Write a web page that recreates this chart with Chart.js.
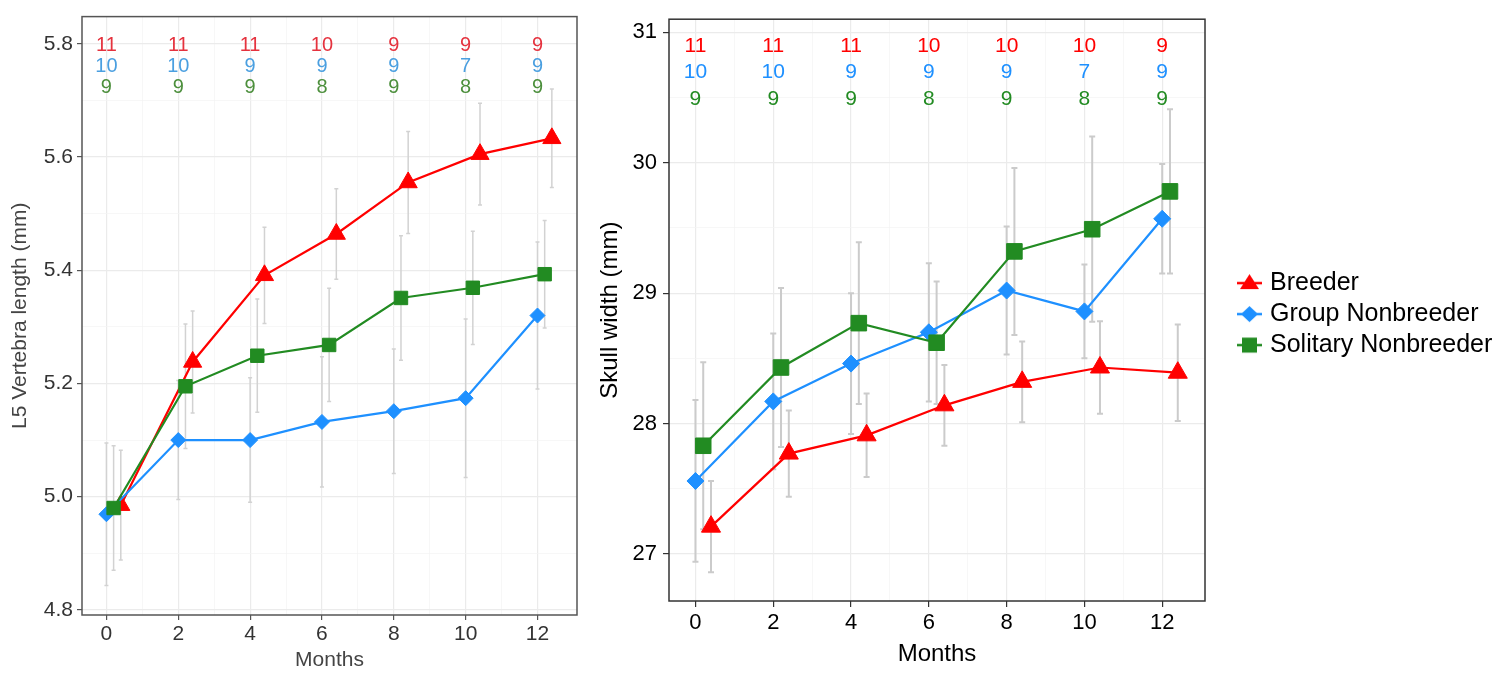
<!DOCTYPE html>
<html>
<head>
<meta charset="utf-8">
<script src="https://cdn.jsdelivr.net/npm/chart.js@4.4.1/dist/chart.umd.min.js"></script>
<style>
  html, body { margin: 0; padding: 0; background: #fff; }
  #wrap { position: relative; width: 1509px; height: 675px; }
  canvas { position: absolute; top: 0; }
  #vertebra { left: 0; }
  #skull { left: 590px; }
</style>
</head>
<body>
<div id="wrap">
  <canvas id="vertebra" width="590" height="675"></canvas>
  <canvas id="skull" width="919" height="675"></canvas>
</div>
<script>
const months = [0, 2, 4, 6, 8, 10, 12];
const groupNames = ["Breeder", "Group Nonbreeder", "Solitary Nonbreeder"];
// dodge offsets (months) used in the original plot
const dodge = [0.4, 0, 0.2];

// L5 vertebra length (mm): means and SE
const vertBreeder = [4.985, 5.238, 5.391, 5.464, 5.555, 5.605, 5.633];
const vertBreederSE = [0.097, 0.09, 0.085, 0.08, 0.09, 0.09, 0.087];
const vertGroup = [4.969, 5.10, 5.10, 5.132, 5.151, 5.174, 5.32];
const vertGroupSE = [0.126, 0.105, 0.11, 0.115, 0.11, 0.14, 0.13];
const vertSolitary = [4.98, 5.195, 5.249, 5.268, 5.351, 5.369, 5.393];
const vertSolitarySE = [0.11, 0.11, 0.10, 0.10, 0.11, 0.10, 0.095];

// Skull width (mm): means and SE
const skullBreeder = [27.21, 27.77, 27.91, 28.14, 28.32, 28.43, 28.39];
const skullBreederSE = [0.35, 0.33, 0.32, 0.31, 0.31, 0.355, 0.37];
const skullGroup = [27.56, 28.17, 28.46, 28.70, 29.02, 28.86, 29.57];
const skullGroupSE = [0.62, 0.52, 0.54, 0.53, 0.49, 0.36, 0.42];
const skullSolitary = [27.83, 28.43, 28.77, 28.62, 29.32, 29.49, 29.78];
const skullSolitarySE = [0.64, 0.61, 0.62, 0.47, 0.64, 0.71, 0.63];

// sample sizes printed above each time point
const vertNBreeder = [11, 11, 11, 10, 9, 9, 9];
const skullNBreeder = [11, 11, 11, 10, 10, 10, 9];
const nGroup = [10, 10, 9, 9, 9, 7, 9];
const nSolitary = [9, 9, 9, 8, 9, 8, 9];

// y values (data units) where the three rows of counts sit
const vertCountRows = [5.797, 5.76, 5.722];
const skullCountRows = [30.89, 30.69, 30.49];

// tick / grid positions
const monthGrid = [0, 1, 2, 3, 4, 5, 6, 7, 8, 9, 10, 11, 12];
const vertGrid = [4.8, 4.9, 5.0, 5.1, 5.2, 5.3, 5.4, 5.5, 5.6, 5.7, 5.8];
const skullGrid = [27, 27.5, 28, 28.5, 29, 29.5, 30, 30.5, 31];

const colors = ["#ff0000", "#1e90ff", "#228b22"];
const FONT = "'Liberation Sans', Arial, sans-serif";
Chart.defaults.font.family = FONT;

// grey error bars, drawn under the lines
const errorBars = {
  id: "errorBars",
  beforeDatasetsDraw(chart, args, opts) {
    const ctx = chart.ctx, xs = chart.scales.x, ys = chart.scales.y;
    ctx.save();
    ctx.strokeStyle = opts.color;
    ctx.lineWidth = opts.width;
    chart.data.datasets.forEach(ds => {
      ds.data.forEach((p, j) => {
        const px = xs.getPixelForValue(p.x);
        const top = ys.getPixelForValue(p.y + ds.se[j]);
        const bot = ys.getPixelForValue(p.y - ds.se[j]);
        ctx.beginPath();
        ctx.moveTo(px, top); ctx.lineTo(px, bot);
        ctx.moveTo(px - opts.cap, top); ctx.lineTo(px + opts.cap, top);
        ctx.moveTo(px - opts.cap, bot); ctx.lineTo(px + opts.cap, bot);
        ctx.stroke();
      });
    });
    ctx.restore();
  }
};

// sample size numbers at the top of each panel
const countLabels = {
  id: "countLabels",
  afterDatasetsDraw(chart, args, opts) {
    const ctx = chart.ctx, xs = chart.scales.x, ys = chart.scales.y;
    ctx.save();
    ctx.font = opts.size + "px " + FONT;
    ctx.textAlign = "center";
    ctx.textBaseline = "middle";
    opts.counts.forEach((row, i) => {
      ctx.fillStyle = opts.colors[i];
      row.forEach((n, j) => {
        ctx.fillText(String(n), xs.getPixelForValue(months[j]), ys.getPixelForValue(opts.rows[i]));
      });
    });
    ctx.restore();
  }
};

const panelBox = {
  id: "panelBox",
  afterDatasetsDraw(chart, args, opts) {
    const a = chart.chartArea, ctx = chart.ctx;
    ctx.save();
    ctx.strokeStyle = opts.color;
    ctx.lineWidth = opts.width;
    ctx.strokeRect(a.left, a.top, a.right - a.left, a.bottom - a.top);
    ctx.restore();
  }
};

// ggplot-style legend to the right of the plot box (line + marker keys)
const sideLegend = {
  id: "sideLegend",
  afterDraw(chart, args, opts) {
    if (!opts.show) return;
    const a = chart.chartArea, ctx = chart.ctx;
    const midY = (a.top + a.bottom) / 2 + opts.shiftY;
    ctx.save();
    ctx.font = opts.size + "px " + FONT;
    ctx.fillStyle = "#000";
    ctx.textAlign = "left";
    ctx.textBaseline = "middle";
    chart.data.datasets.forEach((ds, i) => {
      const y = midY + (i - 1) * opts.spacing;
      const icon = opts.icons[i];
      ctx.drawImage(icon, a.right + opts.gap, y - icon.height / 2);
      ctx.fillText(ds.label, a.right + opts.gap + icon.width + 7, y);
    });
    ctx.restore();
  }
};

function series(values, se, i, radii) {
  const shapes = ["triangle", "rectRot", "rect"];
  return {
    label: groupNames[i],
    data: months.map((m, j) => ({ x: m + dodge[i], y: values[j] })),
    se: se,
    borderColor: colors[i],
    backgroundColor: colors[i],
    borderWidth: 2.2,
    pointStyle: shapes[i],
    pointRadius: radii[i],
    pointHoverRadius: radii[i],
    pointBorderWidth: 1,
    tension: 0,
    order: 2 - i
  };
}

function legendIcon(i) {
  const c = document.createElement("canvas");
  c.width = 27; c.height = 26;
  const g = c.getContext("2d");
  g.strokeStyle = colors[i];
  g.fillStyle = colors[i];
  g.lineWidth = 2.5;
  g.beginPath(); g.moveTo(1, 13); g.lineTo(26, 13); g.stroke();
  const cx = 13.5, cy = 13;
  g.beginPath();
  if (i === 0) {
    g.moveTo(cx, cy - 9); g.lineTo(cx + 9.5, cy + 6); g.lineTo(cx - 9.5, cy + 6);
  } else if (i === 1) {
    g.moveTo(cx, cy - 8); g.lineTo(cx + 8.5, cy); g.lineTo(cx, cy + 8); g.lineTo(cx - 8.5, cy);
  } else {
    g.rect(cx - 7.5, cy - 7.5, 15, 15);
  }
  g.closePath();
  g.fill();
  return c;
}

function panel(id, p) {
  const isMinorX = v => Math.round(v) % 2 !== 0;
  return new Chart(document.getElementById(id), {
    type: "line",
    data: { datasets: p.datasets },
    plugins: [errorBars, countLabels, panelBox, sideLegend],
    options: {
      responsive: false,
      animation: false,
      devicePixelRatio: 1,
      events: [],
      layout: { padding: p.padding },
      scales: {
        x: {
          type: "linear",
          min: -0.68,
          max: 13.1,
          afterBuildTicks: s => { s.ticks = monthGrid.map(v => ({ value: v })); },
          afterFit: s => { s.height = p.xHeight; },
          border: { display: false },
          grid: {
            color: c => isMinorX(c.tick.value) ? "#f4f4f4" : "#ebebeb",
            lineWidth: c => isMinorX(c.tick.value) ? 0.7 : 1.2,
            tickColor: c => isMinorX(c.tick.value) ? "rgba(0,0,0,0)" : p.tickMark,
            tickLength: p.tickLength,
            tickWidth: 1.2
          },
          ticks: {
            autoSkip: false,
            maxRotation: 0,
            padding: p.xTickPad,
            color: p.tickColor,
            font: { size: p.tickSize },
            callback: v => isMinorX(v) ? "" : String(v)
          },
          title: {
            display: true,
            text: "Months",
            color: p.titleColor,
            font: { size: p.titleSize },
            padding: { top: 0, bottom: p.xTitlePad }
          }
        },
        y: {
          type: "linear",
          min: p.yMin,
          max: p.yMax,
          afterBuildTicks: s => { s.ticks = p.yGrid.map(v => ({ value: v })); },
          afterFit: s => { s.width = p.yWidth; },
          border: { display: false },
          grid: {
            color: c => p.isMinorY(c.tick.value) ? "#f4f4f4" : "#ebebeb",
            lineWidth: c => p.isMinorY(c.tick.value) ? 0.7 : 1.2,
            tickColor: c => p.isMinorY(c.tick.value) ? "rgba(0,0,0,0)" : p.tickMark,
            tickLength: p.tickLength,
            tickWidth: 1.2
          },
          ticks: {
            autoSkip: false,
            padding: p.yTickPad,
            color: p.tickColor,
            font: { size: p.tickSize },
            callback: v => p.isMinorY(v) ? "" : p.fmt(v)
          },
          title: {
            display: true,
            text: p.yTitle,
            color: p.titleColor,
            font: { size: p.titleSize },
            padding: { top: p.yTitlePad, bottom: 0 }
          }
        }
      },
      plugins: {
        legend: { display: false },
        tooltip: { enabled: false },
        errorBars: { color: p.barColor, width: p.barWidth, cap: p.cap },
        countLabels: { counts: p.counts, rows: p.rows, colors: p.countColors, size: p.countSize },
        panelBox: { color: p.boxColor, width: 1.5 },
        sideLegend: p.legend
      }
    }
  });
}

panel("vertebra", {
  datasets: [
    series(vertBreeder, vertBreederSE, 0, [10.5, 7.5, 9.5]),
    series(vertGroup, vertGroupSE, 1, [10.5, 7.5, 9.5]),
    series(vertSolitary, vertSolitarySE, 2, [10.5, 7.5, 9.5])
  ],
  padding: { top: 9, right: 13, left: 0, bottom: 0 },
  xHeight: 60, yWidth: 82,
  yMin: 4.791, yMax: 5.848, yGrid: vertGrid,
  isMinorY: v => Math.round(v * 10) % 2 !== 0,
  fmt: v => v.toFixed(1),
  yTitle: "L5 Vertebra length (mm)",
  tickSize: 21, titleSize: 21, countSize: 20,
  tickColor: "#333", titleColor: "#444", tickMark: "#555",
  tickLength: 5, xTickPad: 2, yTickPad: 4, xTitlePad: 2, yTitlePad: 8,
  barColor: "#d2d2d2", barWidth: 1.5, cap: 2,
  counts: [vertNBreeder, nGroup, nSolitary], rows: vertCountRows,
  countColors: ["#e5323e", "#4a9fe0", "#4c8f3c"],
  boxColor: "#555",
  legend: { show: false }
});

panel("skull", {
  datasets: [
    series(skullBreeder, skullBreederSE, 0, [11, 8.5, 11]),
    series(skullGroup, skullGroupSE, 1, [11, 8.5, 11]),
    series(skullSolitary, skullSolitarySE, 2, [11, 8.5, 11])
  ],
  padding: { top: 19, right: 304, left: 0, bottom: 0 },
  xHeight: 74, yWidth: 79,
  yMin: 26.64, yMax: 31.1, yGrid: skullGrid,
  isMinorY: v => Math.round(v * 2) % 2 !== 0,
  fmt: v => String(Math.round(v)),
  yTitle: "Skull width (mm)",
  tickSize: 22, titleSize: 24, countSize: 21,
  tickColor: "#000", titleColor: "#000", tickMark: "#333",
  tickLength: 6, xTickPad: 3, yTickPad: 6, xTitlePad: 6, yTitlePad: 6,
  barColor: "#cbcbcb", barWidth: 2, cap: 3,
  counts: [skullNBreeder, nGroup, nSolitary], rows: skullCountRows,
  countColors: colors,
  boxColor: "#333",
  legend: { show: true, icons: [0, 1, 2].map(legendIcon), size: 25, spacing: 31, gap: 31, shiftY: 4 }
});
</script>
</body>
</html>
